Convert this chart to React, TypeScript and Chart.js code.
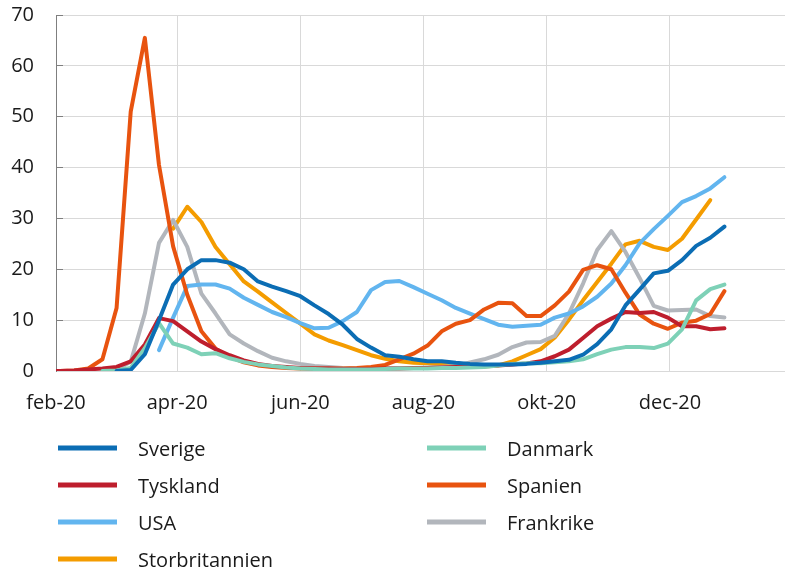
import React, { useEffect, useRef } from "react";
import { Chart, registerables } from "chart.js";

Chart.register(...registerables);

// ISO weeks of 2020 (each point = Monday of that week)
const isoWeeks = [
  5, 6, 7, 8, 9, 10, 11, 12, 13, 14, 15, 16, 17, 18, 19, 20, 21, 22, 23, 24, 25,
  26, 27, 28, 29, 30, 31, 32, 33, 34, 35, 36, 37, 38, 39, 40, 41, 42, 43, 44,
  45, 46, 47, 48, 49, 50, 51, 52, 53,
];

const axisStart = "2020-02-01";
const axisEnd = "2021-01-27";
const tickDates = ["2020-02-01", "2020-04-01", "2020-06-01", "2020-08-01", "2020-10-01", "2020-12-01"];
const tickLabels = ["feb-20", "apr-20", "jun-20", "aug-20", "okt-20", "dec-20"];
const yMin = 0;
const yMax = 70;
const yStep = 10;

const seriesNames = ["Sverige", "Danmark", "Tyskland", "Spanien", "USA", "Frankrike", "Storbritannien"];
const seriesColors = ["#0B6DB4", "#7ED1B7", "#BE1E2D", "#E8530F", "#62B5EF", "#B2B6BC", "#F49C00"];

const sverige = [
  null, null, null, null, null, 0, 0.2, 3.3, 10, 17, 20, 21.8, 21.8, 21.3, 20, 17.6, 16.6,
  15.7, 14.7, 12.9, 11.2, 9.1, 6.3, 4.6, 3.1, 2.8, 2.3, 1.9, 1.9, 1.6, 1.4, 1.3, 1.3,
  1.3, 1.4, 1.6, 1.9, 2.2, 3.2, 5.3, 8.2, 12.9, 16.0, 19.2, 19.7, 21.8, 24.6, 26.2, 28.4,
];
const danmark = [
  null, null, null, null, 0, 0.1, 0.6, 4.5, 9.4, 5.4, 4.6, 3.3, 3.5, 2.5, 1.8, 1.3, 1.0,
  0.7, 0.5, 0.4, 0.3, 0.3, 0.3, 0.3, 0.4, 0.5, 0.5, 0.5, 0.6, 0.6, 0.7, 0.8, 1.1,
  1.4, 1.5, 1.5, 1.7, 1.9, 2.3, 3.3, 4.2, 4.7, 4.7, 4.5, 5.4, 8.2, 13.9, 16.1, 17.0,
];
const tyskland = [
  0, 0, 0.1, 0.3, 0.5, 0.8, 1.9, 5.2, 10.4, 9.8, 7.8, 5.8, 4.3, 3.1, 2.1, 1.4, 1.0,
  0.8, 0.6, 0.5, 0.5, 0.4, 0.4, 0.4, 0.5, 0.5, 0.6, 0.6, 0.7, 0.8, 0.9, 1.0, 1.1,
  1.3, 1.5, 1.9, 2.9, 4.2, 6.5, 8.8, 10.3, 11.6, 11.4, 11.6, 10.5, 8.8, 8.8, 8.2, 8.4,
];
const spanien = [
  0, 0, 0.1, 0.5, 2.3, 12.4, 51, 65.5, 40.5, 24.5, 15.0, 7.8, 4.4, 2.8, 1.7, 1.1, 0.8,
  0.6, 0.5, 0.5, 0.5, 0.5, 0.6, 0.8, 1.2, 2.3, 3.4, 5.0, 7.8, 9.3, 10.0, 12.1, 13.4,
  13.3, 10.8, 10.8, 12.9, 15.6, 19.9, 20.8, 20.0, 15.4, 11.1, 9.3, 8.3, 9.5, 9.9, 11.2, 15.7,
];
const usa = [
  null, null, null, null, null, null, null, null, 4.1, 10.5, 16.7, 17.0, 17.0, 16.2, 14.4, 13.0, 11.6,
  10.6, 9.4, 8.4, 8.5, 9.8, 11.6, 15.9, 17.5, 17.7, 16.5, 15.2, 13.9, 12.4, 11.3, 10.2, 9.1,
  8.7, 8.9, 9.1, 10.5, 11.3, 12.7, 14.6, 17.2, 20.8, 25.1, 27.9, 30.5, 33.2, 34.4, 35.9, 38.1,
];
const frankrike = [
  null, null, null, null, 0, 0.3, 1.8, 11.3, 25.2, 29.7, 24.4, 15.2, 11.3, 7.2, 5.4, 3.9, 2.6,
  1.9, 1.4, 1.0, 0.8, 0.6, 0.5, 0.5, 0.5, 0.6, 0.6, 0.7, 0.8, 1.0, 1.7, 2.3, 3.2,
  4.7, 5.6, 5.7, 6.9, 11.3, 17.2, 23.8, 27.5, 23.4, 18.3, 12.8, 11.9, 12.0, 12.1, 10.8, 10.5,
];
const storbritannien = [
  null, null, null, null, null, null, null, null, null, 28.0, 32.3, 29.3, 24.4, 21.0, 17.6, 15.6, 13.5,
  11.4, 9.3, 7.2, 6.0, 5.1, 4.1, 3.1, 2.4, 1.9, 1.6, 1.5, 1.25, 1.1, 1.0, 0.9, 1.1,
  1.9, 3.1, 4.3, 6.6, 10.1, 13.9, 17.5, 21.1, 24.9, 25.6, 24.4, 23.8, 26.0, 29.8, 33.6, null,
];

const seriesValues = [sverige, danmark, tyskland, spanien, usa, frankrike, storbritannien];

const FONT = "'Open Sans', sans-serif";
const TEXT = "#1A1A1A";
const GRID = "#D9D9D9";
const AXIS = "#7F7F7F";

const DAY = 86400000;
const dayOf = (iso: string) => (Date.parse(iso + "T00:00:00Z") - Date.parse(axisStart + "T00:00:00Z")) / DAY;
// Monday of ISO week w in 2020 (week 1 starts 2019-12-30)
const weekDay = (w: number) => dayOf("2019-12-30") + 7 * (w - 1);

const tickDays = tickDates.map(dayOf);

const legendPlugin = {
  id: "twoColumnLegend",
  afterDraw(chart: any) {
    const { ctx, chartArea } = chart;
    const x0 = chartArea.left + 2;
    const colW = 369;
    const y0 = chartArea.bottom + 77;
    const rowH = 37;
    ctx.save();
    ctx.font = `20px ${FONT}`;
    ctx.textAlign = "left";
    ctx.textBaseline = "alphabetic";
    chart.data.datasets.forEach((ds: any, k: number) => {
      const row = Math.floor(k / 2);
      const col = k % 2;
      const x = x0 + col * colW;
      const y = y0 + row * rowH;
      ctx.fillStyle = ds.borderColor;
      ctx.fillRect(x, y - 2.5, 59, 5);
      ctx.fillStyle = TEXT;
      ctx.fillText(ds.label, x + 80, y + 8.4);
    });
    ctx.restore();
  },
};

export default function App() {
  const ref = useRef<HTMLCanvasElement | null>(null);

  useEffect(() => {
    if (!ref.current) return;
    const datasets = seriesNames.map((name, s) => ({
      label: name,
      data: isoWeeks.map((w, i) => ({ x: weekDay(w), y: seriesValues[s][i] })),
      borderColor: seriesColors[s],
      backgroundColor: seriesColors[s],
      borderWidth: 4,
      pointRadius: 0,
      pointHoverRadius: 0,
      tension: 0,
      spanGaps: false,
      borderJoinStyle: "round" as const,
      borderCapStyle: "round" as const,
      fill: false,
    }));

    const chart = new Chart(ref.current, {
      type: "line",
      data: { datasets },
      plugins: [legendPlugin],
      options: {
        animation: false,
        responsive: false,
        devicePixelRatio: 1,
        layout: { padding: { top: 15, right: 0, bottom: 157, left: 0 } },
        plugins: {
          legend: { display: false },
          tooltip: { enabled: false },
        },
        scales: {
          x: {
            type: "linear",
            min: 0,
            max: dayOf(axisEnd),
            afterBuildTicks: (scale: any) => {
              scale.ticks = tickDays.map((v) => ({ value: v }));
            },
            afterFit: (scale: any) => {
              scale.height = 44;
              scale.paddingLeft = 0;
              scale.paddingRight = 0;
            },
            ticks: {
              autoSkip: false,
              maxRotation: 0,
              minRotation: 0,
              padding: 20,
              color: TEXT,
              font: { family: FONT, size: 20 },
              callback: (_v: any, i: number) => tickLabels[i],
            },
            grid: {
              color: (c: any) => (c.index === 0 ? "rgba(0,0,0,0)" : GRID),
              lineWidth: 1,
              drawTicks: false,
            },
            border: { color: GRID, width: 1 },
          },
          y: {
            type: "linear",
            min: yMin,
            max: yMax,
            ticks: {
              stepSize: yStep,
              padding: 29,
              color: TEXT,
              font: { family: FONT, size: 20 },
            },
            afterFit: (scale: any) => {
              scale.width = 56;
              scale.paddingTop = 0;
              scale.paddingBottom = 0;
            },
            grid: {
              color: GRID,
              lineWidth: 1,
              drawTicks: true,
              tickLength: -7,
              tickColor: AXIS,
              tickWidth: 1,
            },
            border: { color: AXIS, width: 1 },
          },
        },
      },
    });
    return () => chart.destroy();
  }, []);

  return (
    <div style={{ position: "absolute", left: 0, top: 0, width: 785, height: 572, background: "#fff" }}>
      <canvas ref={ref} width={785} height={572} style={{ display: "block", width: 785, height: 572 }} />
    </div>
  );
}
